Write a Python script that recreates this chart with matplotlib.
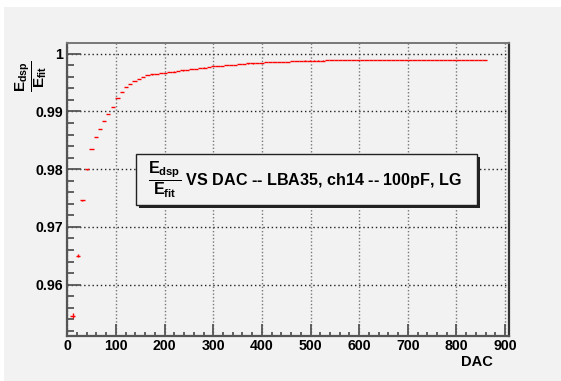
#!/usr/bin/env python3
"""
Edsp/Efit vs DAC -- LBA35, ch14 -- 100pF, LG
"""

import numpy as np
import matplotlib
matplotlib.use('Agg')
import matplotlib.pyplot as plt
from matplotlib.patches import Rectangle
from matplotlib.ticker import MultipleLocator

# valores DAC (centros de los puntos)
dac = [11, 22, 31, 40, 50, 59, 67, 76, 84, 94, 103, 112, 121, 129, 138, 147,
       156, 165, 174, 183, 192, 201, 210, 219, 228, 237, 246, 255, 264, 273,
       282, 291, 300, 309, 318, 327, 336, 345, 354, 363, 372, 381, 390, 399,
       408, 417, 426, 435, 444, 453, 462, 471, 480, 489, 498, 507, 516, 525,
       534, 543, 552, 561, 570, 579, 588, 597, 606, 615, 624, 633, 642, 651,
       660, 669, 678, 687, 696, 705, 714, 723, 732, 741, 750, 759, 768, 777,
       786, 795, 804, 813, 822, 831, 840, 849, 858]

# cociente Edsp/Efit
ratio = [0.9546, 0.9650, 0.9746, 0.9800, 0.9835, 0.9856, 0.9870, 0.9884,
         0.9896, 0.9907, 0.9923, 0.9934, 0.9942, 0.9948, 0.9952, 0.9956,
         0.9960, 0.9963, 0.9964, 0.9965, 0.9966, 0.9967, 0.9968, 0.9969,
         0.9970, 0.9971, 0.9972, 0.9973, 0.9974, 0.9975, 0.9976, 0.9977,
         0.9978, 0.9978, 0.9979, 0.9980, 0.9980, 0.9981, 0.9982, 0.9982,
         0.9983, 0.9983, 0.9984, 0.9984, 0.9985, 0.9985, 0.9985, 0.9986,
         0.9986, 0.9986, 0.9987, 0.9987, 0.9987, 0.9988, 0.9988, 0.9988,
         0.9988, 0.9988, 0.9989, 0.9989, 0.9989, 0.9989, 0.9989, 0.9989,
         0.9989, 0.9989, 0.9989, 0.9989, 0.9989, 0.9989, 0.9989, 0.9989,
         0.9989, 0.9989, 0.9989, 0.9989, 0.9989, 0.9989, 0.9989, 0.9989,
         0.9989, 0.9989, 0.9989, 0.9989, 0.9989, 0.9989, 0.9989, 0.9989,
         0.9989, 0.9989, 0.9989, 0.9989, 0.9989, 0.9989, 0.9989]

# errores
err_y = [0.0004, 0.0003, 0.0001, 0.00008] + [0.00002] * (len(dac) - 4)
err_x = 4.5

plt.rcParams['font.family'] = ['Liberation Sans', 'DejaVu Sans']
plt.rcParams['font.weight'] = 'bold'
plt.rcParams['mathtext.fontset'] = 'custom'
plt.rcParams['mathtext.rm'] = 'Liberation Sans:bold'
plt.rcParams['mathtext.it'] = 'Liberation Sans:bold'
plt.rcParams['mathtext.bf'] = 'Liberation Sans:bold'

gris = '#f2f2f2'
fig = plt.figure(figsize=(5.61, 3.81), dpi=100, facecolor=gris)
# margen blanco arriba e izquierda (como el canvas de ROOT)
fig.patches.append(Rectangle((0, 1 - 7 / 381), 1, 7 / 381, transform=fig.transFigure,
                             facecolor='white', edgecolor='none', zorder=0))
fig.patches.append(Rectangle((0, 0), 4 / 561, 1, transform=fig.transFigure,
                             facecolor='white', edgecolor='none', zorder=0))

ax = fig.add_axes([67.3 / 561, 45 / 381, (509 - 67.3) / 561, (336 - 42.7) / 381])
ax.set_facecolor(gris)

ax.errorbar(dac, ratio, xerr=err_x, yerr=err_y, fmt='none', ecolor='#ff0000',
            elinewidth=1.0, capsize=0, zorder=3)

ax.set_xlim(0, 908)
ax.set_ylim(0.9511, 1.0019)

ax.xaxis.set_major_locator(MultipleLocator(100))
ax.xaxis.set_minor_locator(MultipleLocator(20))
ax.yaxis.set_major_locator(MultipleLocator(0.01))
ax.yaxis.set_minor_locator(MultipleLocator(0.002))
ax.yaxis.set_major_formatter(plt.FuncFormatter(lambda v, p: f'{v:.2f}'.rstrip('0').rstrip('.')))

ax.grid(True, which='major', axis='y', color='#222222', linestyle=(0, (1, 2)), linewidth=1.0)
ax.grid(True, which='major', axis='x', color='#777777', linestyle=(0, (1, 1.5)), linewidth=1.0)

ax.tick_params(axis='y', which='major', direction='in', length=10, width=1.3,
               color='#555555', labelsize=10.2, pad=3)
ax.tick_params(axis='y', which='minor', direction='in', length=4.8, width=1.3,
               color='#555555')
ax.tick_params(axis='x', which='major', direction='in', length=8.4, width=1.3,
               color='#555555', labelsize=10.2, pad=2)
ax.tick_params(axis='x', which='minor', direction='in', length=3.2, width=1.3,
               color='#555555')

for lado in ['left', 'bottom']:
    ax.spines[lado].set_color('#555555')
    ax.spines[lado].set_linewidth(1.6)
ax.spines['top'].set_color('#777777')
ax.spines['top'].set_linewidth(1.4)
ax.spines['right'].set_color('#333333')
ax.spines['right'].set_linewidth(1.6)

ax.set_xlabel('DAC', fontsize=10.5, fontweight='bold')
ax.xaxis.set_label_coords((493 - 67.3) / (509 - 67.3), -0.065)
ax.xaxis.label.set_horizontalalignment('right')

# etiqueta eje y
fig.text(31 / 561, 1 - 76 / 381, r'$\dfrac{E_{dsp}}{E_{fit}}$', rotation=90,
         ha='center', va='center', fontsize=11)

# caja del titulo
x0, y0, w, h = 136 / 561, (381 - 205) / 381, 341 / 561, 51 / 381
fig.patches.append(Rectangle((x0 + 2.5 / 561, y0 - 2.5 / 381), w, h, transform=fig.transFigure,
                             facecolor='#222222', edgecolor='none', zorder=5))
fig.patches.append(Rectangle((x0, y0), w, h, transform=fig.transFigure,
                             facecolor=gris, edgecolor='#222222', linewidth=1.0, zorder=6))
fig.text(148 / 561, 1 - 180 / 381,
         r'$\dfrac{E_{dsp}}{E_{fit}}$' + ' VS DAC -- LBA35, ch14 -- 100pF, LG',
         ha='left', va='center', fontsize=11.6, zorder=7)

fig.savefig('out.png', dpi=100, facecolor=gris)
